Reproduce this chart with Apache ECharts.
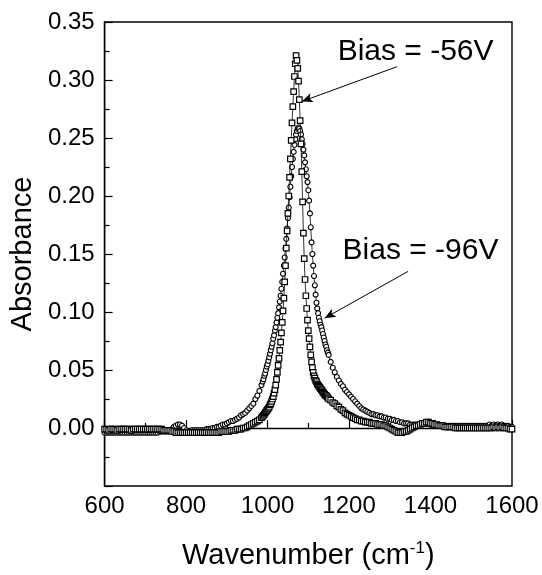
<!DOCTYPE html>
<html>
<head>
<meta charset="utf-8">
<script src="https://cdn.jsdelivr.net/npm/echarts@6/dist/echarts.min.js"></script>
<style>
	html, body { margin: 0; padding: 0; background: #fff; }
	#chart { width: 542px; height: 575px; }
</style>
</head>
<body>
<div id="chart"></div>
<script>
// wavenumber (cm-1)
var wavenumber = [
	600,605,610,615,620,625,630,635,640,645,
	650,655,660,665,670,675,680,685,690,695,
	700,705,710,715,720,725,730,735,740,745,
	750,755,760,765,770,775,780,785,790,795,
	800,805,810,815,820,825,830,835,840,845,
	850,855,860,865,870,875,880,885,890,895,
	900,905,910,915,920,925,930,935,940,945,
	950,955,960,965,970,975,980,985,
	988,990,992,994,996,998,1000,1002,1004,1006,
	1008,1010,1012,1014,1016,1018,1020,1022,1024,1026,
	1028,1030,1032,1034,1036,1038,1040,1042,1044,1046,
	1048,1050,1052,1054,1056,1058,1060,1062,1064,1066,
	1068,1070,1072,1074,1076,1078,1080,1082,1084,1086,
	1088,1090,1092,1094,1096,1098,1100,1102,1104,1106,
	1108,1110,1112,1114,1116,1118,1120,1122,1124,1126,
	1128,1130,1132,1134,1136,1138,1140,1142,1144,1146,
	1148,1150,
	1155,1160,1165,1170,1175,1180,1185,1190,1195,1200,
	1205,1210,1215,1220,1225,1230,1235,1240,1245,1250,
	1255,1260,1265,1270,1275,1280,1285,1290,1295,1300,
	1305,1310,1315,1320,1325,1330,1335,1340,1345,1350,
	1355,1360,1365,1370,1375,1380,1385,1390,1395,1400,
	1405,1410,1415,1420,1425,1430,1435,1440,1445,1450,
	1455,1460,1465,1470,1475,1480,1485,1490,1495,1500,
	1505,1510,1515,1520,1525,1530,1535,1540,1545,1550,
	1555,1560,1565,1570,1575,1580,1585,1590,1595,1600
];

// Bias = -56V (squares)
var bias56 = [
	-0.001,-0.001,-0.002,-0.001,-0.001,-0.001,-0.002,-0.001,-0.001,-0.001,
	-0.001,-0.001,-0.001,-0.002,-0.001,-0.001,-0.001,-0.001,-0.001,-0.001,
	-0.001,-0.001,-0.001,-0.001,-0.001,-0.001,-0.001,-0.001,-0.001,-0.002,
	-0.002,-0.002,-0.002,-0.003,-0.003,-0.004,-0.004,-0.004,-0.004,-0.004,
	-0.004,-0.004,-0.004,-0.004,-0.004,-0.004,-0.004,-0.004,-0.004,-0.004,
	-0.004,-0.004,-0.004,-0.004,-0.004,-0.004,-0.004,-0.003,-0.003,-0.003,
	-0.003,-0.003,-0.002,-0.002,-0.002,-0.001,-0.001,-0.001,0.000,0.000,
	0.001,0.002,0.003,0.004,0.005,0.006,0.007,0.009,
	0.010,0.011,0.012,0.013,0.014,0.015,0.016,0.017,0.018,0.020,
	0.021,0.023,0.025,0.027,0.030,0.033,0.037,0.042,0.048,0.054,
	0.060,0.067,0.074,0.082,0.091,0.101,0.112,0.126,0.140,0.155,
	0.170,0.185,0.200,0.216,0.232,0.248,0.263,0.277,0.290,0.303,
	0.314,0.321,0.317,0.310,0.299,0.283,0.265,0.245,0.221,0.195,
	0.168,0.146,0.128,0.114,0.103,0.093,0.084,0.077,0.070,0.063,
	0.057,0.052,0.048,0.045,0.043,0.041,0.040,0.038,0.037,0.036,
	0.035,0.034,0.033,0.032,0.031,0.030,0.029,0.028,0.028,0.027,
	0.026,0.025,
	0.024,0.022,0.021,0.019,0.018,0.016,0.015,0.013,0.012,0.011,
	0.010,0.009,0.008,0.007,0.007,0.006,0.006,0.005,0.005,0.005,
	0.004,0.004,0.004,0.003,0.003,0.003,0.002,0.002,0.001,0.000,
	-0.001,-0.002,-0.003,-0.004,-0.004,-0.004,-0.003,-0.003,-0.002,-0.001,
	0.000,0.001,0.002,0.002,0.003,0.004,0.004,0.005,0.005,0.004,
	0.004,0.003,0.003,0.002,0.002,0.002,0.001,0.001,0.001,0.001,
	0.001,0.000,0.000,0.000,0.000,0.000,0.000,0.000,0.000,0.000,
	0.000,0.000,0.000,0.000,0.000,0.000,0.000,0.000,0.000,0.000,
	0.001,0.000,0.001,0.000,0.001,0.000,0.000,0.000,-0.001,-0.001
];

// Bias = -96V (circles)
var bias96 = [
	-0.004,-0.004,-0.004,-0.004,-0.004,-0.004,-0.004,-0.004,-0.004,-0.004,
	-0.004,-0.004,-0.004,-0.004,-0.004,-0.004,-0.004,-0.004,-0.004,-0.004,
	-0.004,-0.004,-0.004,-0.004,-0.004,-0.004,-0.004,-0.003,-0.003,-0.003,
	-0.003,-0.003,-0.002,-0.001,0.001,0.002,0.003,0.003,0.002,0.000,
	-0.002,-0.003,-0.003,-0.002,-0.002,-0.002,-0.002,-0.002,-0.002,-0.002,
	-0.001,-0.001,-0.001,0.000,0.000,0.001,0.001,0.002,0.003,0.003,
	0.004,0.005,0.006,0.006,0.007,0.008,0.009,0.011,0.012,0.013,
	0.015,0.017,0.019,0.021,0.025,0.028,0.032,0.037,
	0.040,0.042,0.045,0.047,0.050,0.053,0.055,0.058,0.061,0.064,
	0.067,0.070,0.073,0.077,0.080,0.084,0.087,0.091,0.095,0.099,
	0.104,0.109,0.114,0.120,0.126,0.133,0.140,0.147,0.155,0.163,
	0.172,0.181,0.190,0.199,0.208,0.217,0.225,0.232,0.238,0.244,
	0.249,0.253,0.256,0.258,0.259,0.258,0.256,0.253,0.249,0.245,
	0.240,0.235,0.229,0.223,0.217,0.212,0.205,0.196,0.185,0.173,
	0.160,0.150,0.140,0.131,0.123,0.115,0.108,0.103,0.099,0.095,
	0.092,0.089,0.087,0.084,0.081,0.078,0.075,0.072,0.070,0.067,
	0.065,0.063,
	0.057,0.052,0.048,0.044,0.041,0.038,0.036,0.033,0.031,0.029,
	0.027,0.025,0.023,0.021,0.019,0.017,0.016,0.015,0.014,0.013,
	0.012,0.012,0.011,0.011,0.010,0.010,0.009,0.009,0.008,0.008,
	0.007,0.007,0.006,0.006,0.005,0.005,0.004,0.004,0.004,0.003,
	0.003,0.003,0.003,0.003,0.003,0.004,0.004,0.004,0.004,0.003,
	0.003,0.003,0.003,0.003,0.002,0.002,0.002,0.002,0.002,0.002,
	0.002,0.002,0.002,0.002,0.002,0.002,0.002,0.002,0.002,0.002,
	0.002,0.002,0.002,0.002,0.002,0.002,0.002,0.002,0.003,0.002,
	0.003,0.002,0.003,0.002,0.003,0.002,0.002,0.002,0.001,0.001
];

// annotation text anchors and arrows, in data units [wavenumber, absorbance]
var label56 = [1172, 0.324];
var arrow56 = [[1318, 0.3115], [1084, 0.2815]];
var label96 = [1184, 0.153];
var arrow96 = [[1345, 0.135], [1140, 0.0947]];

var FONT = 'Liberation Sans';

function pairs(ys) {
	return wavenumber.map(function (x, i) { return [x, ys[i]]; });
}

function annot(text, pos, arrow) {
	return {
		markPoint: {
			silent: true,
			symbol: 'circle',
			symbolSize: 0,
			label: {
				show: true, position: 'right', distance: 0,
				formatter: text, color: '#000', fontSize: 30, fontFamily: FONT
			},
			data: [{ coord: pos }]
		},
		markLine: {
			silent: true,
			symbol: ['none', 'arrow'],
			symbolSize: [7, 11],
			label: { show: false },
			lineStyle: { color: '#000', width: 1, type: 'solid' },
			data: [[{ coord: arrow[0] }, { coord: arrow[1] }]]
		}
	};
}

var chart = echarts.init(document.getElementById('chart'), null, { renderer: 'canvas' });

var s56 = {
	name: 'Bias = -56V',
	type: 'line',
	data: pairs(bias56),
	symbol: 'rect',
	symbolSize: 5.5,
	itemStyle: { color: '#fff', borderColor: '#000', borderWidth: 1.2 },
	lineStyle: { color: '#000', width: 0.8 },
	z: 4
};
var s96 = {
	name: 'Bias = -96V',
	type: 'line',
	data: pairs(bias96),
	symbol: 'circle',
	symbolSize: 5,
	itemStyle: { color: '#fff', borderColor: '#000', borderWidth: 1.1 },
	lineStyle: { color: '#000', width: 0.8 },
	z: 3
};
Object.assign(s56, annot('Bias = -56V', label56, arrow56));
Object.assign(s96, annot('Bias = -96V', label96, arrow96));

var option = {
	animation: false,
	backgroundColor: '#fff',
	grid: {
		left: 101, top: 22, width: 411, height: 467,
		show: true, borderColor: '#000', borderWidth: 1.4, backgroundColor: 'transparent'
	},
	xAxis: {
		type: 'value',
		min: 600, max: 1600, interval: 200,
		name: '{t|Wavenumber (cm}{s|-1}{t|)}',
		nameLocation: 'middle',
		nameGap: 54,
		nameTextStyle: {
			rich: {
				t: { fontSize: 29, fontFamily: FONT, color: '#000' },
				s: { fontSize: 17, fontFamily: FONT, color: '#000', verticalAlign: 'top', padding: [0, 0, 14, 0] }
			}
		},
		axisLine: { lineStyle: { color: '#000', width: 1.4 } },
		axisTick: { inside: true, length: 8, lineStyle: { color: '#000', width: 1.2 } },
		minorTick: { show: true, splitNumber: 2, length: 5, lineStyle: { color: '#000', width: 1.2 } },
		axisLabel: {
			color: '#000', fontSize: 24, fontFamily: FONT, margin: 8,
			formatter: function (v) { return String(v); }
		},
		splitLine: { show: false }
	},
	yAxis: {
		type: 'value',
		min: -0.05, max: 0.35, interval: 0.05,
		name: 'Absorbance',
		nameLocation: 'middle',
		nameGap: 62,
		nameTextStyle: { fontSize: 29, fontFamily: FONT, color: '#000' },
		axisLine: { lineStyle: { color: '#000', width: 1.4 } },
		axisTick: { inside: true, length: 8, lineStyle: { color: '#000', width: 1.2 } },
		minorTick: { show: true, splitNumber: 2, length: 5, lineStyle: { color: '#000', width: 1.2 } },
		axisLabel: {
			color: '#000', fontSize: 24, fontFamily: FONT, margin: 10,
			formatter: function (v) { return v < -0.001 ? '' : v.toFixed(2); }
		},
		splitLine: { show: false }
	},
	series: [s96, s56]
};
chart.setOption(option);
</script>
</body>
</html>
